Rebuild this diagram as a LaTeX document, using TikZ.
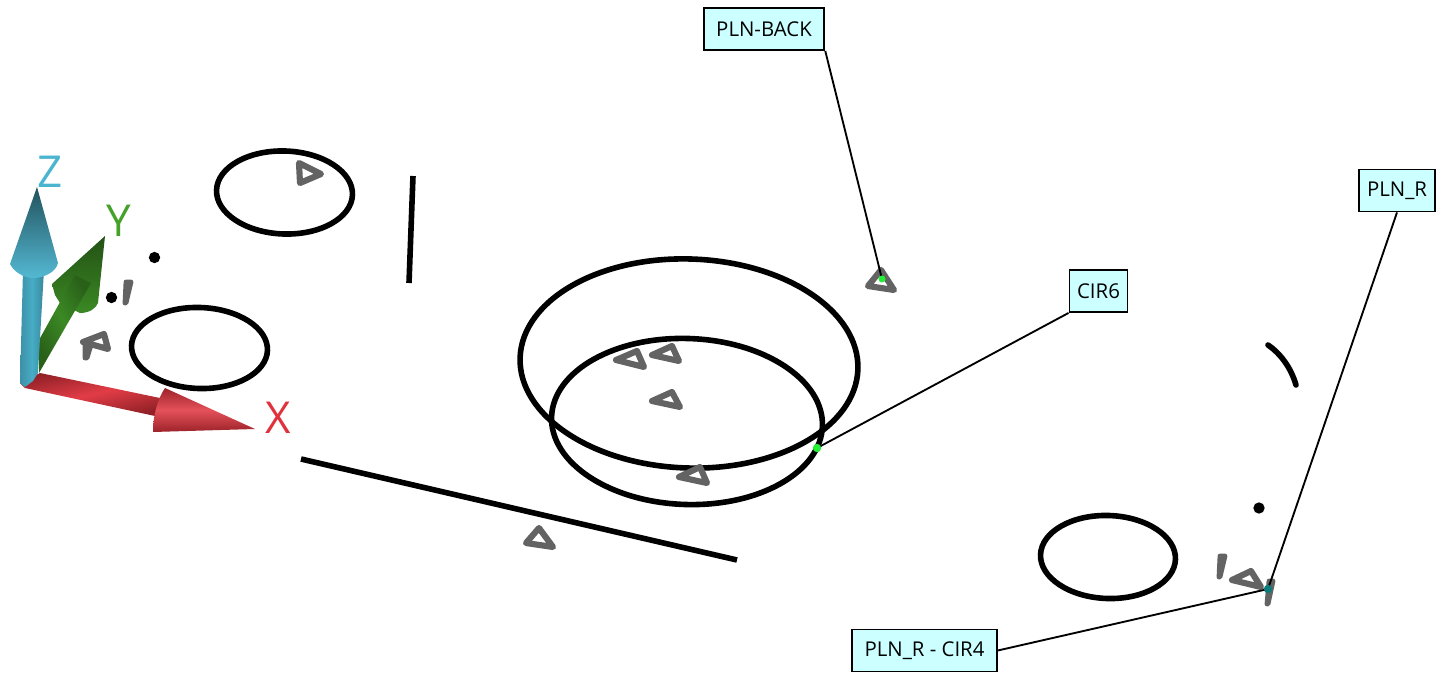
\documentclass[tikz,border=0pt]{standalone}
\usepackage{fontspec}
\setmainfont{Open Sans}
\usetikzlibrary{calc}
\definecolor{lab}{HTML}{CCFFFF}
\definecolor{mk}{HTML}{636363}
\definecolor{zc}{HTML}{4BB5D0}
\definecolor{yc}{HTML}{45A12A}
\definecolor{xc}{HTML}{E0323C}
\definecolor{hit}{HTML}{22EE33}
\definecolor{hitb}{HTML}{0B7B7B}
\tikzset{
 px/.style={x=0.75pt,y=-0.75pt},
 tag/.style={draw=black,line width=1.4pt,fill=lab,inner sep=0pt,minimum height=31.5pt,font=\fontsize{15.3pt}{17pt}\selectfont,text=black},
 lead/.style={draw=black,line width=1.4pt},
 curve/.style={draw=black,line width=4.2pt},
 tri/.style={draw=mk,line width=4.6pt,line join=round},
 stub/.style={draw=mk,fill=mk,line width=3.6pt,line join=round},
 dotm/.style={circle,fill=black,inner sep=0pt,minimum size=8.5pt},
 axl/.style={font=\fontsize{33pt}{35pt}\selectfont,inner sep=0pt},
}
\begin{document}
\begin{tikzpicture}[px]
\useasboundingbox (0,0) rectangle (1447,675);
% curves
\draw[curve,rotate around={-2:(284.5,192.5)}] (284.5,192.5) ellipse [x radius=68,y radius=41.5];
\draw[curve,rotate around={-2:(199.5,348)}] (199.5,348) ellipse [x radius=68,y radius=40.5];
\draw[curve,rotate around={-2:(689,363.5)}] (689,363.5) ellipse [x radius=169,y radius=104.5];
\draw[curve,rotate around={-2:(687,421.5)}] (687,421.5) ellipse [x radius=135.5,y radius=83];
\draw[curve,rotate around={-2:(1108,557)}] (1108,557) ellipse [x radius=67.5,y radius=41.5];
\draw[curve] (413,176) -- (409,283);
\draw[curve] (301,459) -- (737,560);
\draw[curve,line cap=round] (1268,345) .. controls (1281,354) and (1291,368) .. (1296,385);
% triangles
\draw[tri] (299,163) -- (321,174) -- (300,183) -- cycle;
\draw[tri] (868,286) -- (881,270) -- (894,290) -- cycle;
\draw[tri] (616,360) -- (637,351) -- (644,367) -- cycle;
\draw[tri] (652,355) -- (672,346) -- (679,361) -- cycle;
\draw[tri] (652,401) -- (672,392) -- (680,407) -- cycle;
\draw[tri] (679,477) -- (700,467) -- (707,483) -- cycle;
\draw[tri] (526,543) -- (539,528) -- (553,547) -- cycle;
\draw[tri] (1232,580) -- (1251,571) -- (1261,587) -- cycle;
\draw[tri] (83,342) -- (104,334) -- (108,349) -- cycle;
\draw[stub] (85,345) -- (91,345) -- (87,358) -- (85,358) -- cycle;
\draw[stub] (126,282) -- (131,282) -- (126,303) -- (125,303) -- cycle;
\draw[stub] (1220,556) -- (1225,556) -- (1220,577) -- (1219,577) -- cycle;
\draw[stub] (1269,581) -- (1273,581) -- (1268,604) -- (1267,604) -- cycle;
% dots
\node[dotm] (d1) at (154.5,257.5) {};
\node[dotm] (d2) at (111.5,297.5) {};
\node[dotm] (d3) at (1259,508) {};
% axes: Y
\shade[top color=yc!50!black,bottom color=yc!85!black]
  (105,236) -- (52,284) -- (55,295) -- (60,303) -- (80,313) .. controls (90,313) and (96,308) .. (98,303) -- cycle;
\shade[left color=yc!60!black,right color=yc!60!black,middle color=yc!85!black,shading angle=120]
  (39,340) -- (75,275) -- (91,283) -- (39,373) -- cycle;
% axes: X
\shade[top color=xc!65!black,bottom color=xc!65!black,middle color=xc!95!white,shading angle=13]
  (20,383) -- (40,373) -- (160,398) -- (155,416) -- (25,388) -- cycle;
\shade[top color=xc!70!black,bottom color=xc!70!black,middle color=xc!85!white]
  (165,388) .. controls (158,398) and (153,415) .. (153,432) -- (255,429) -- cycle;
% axes: Z
\shade[left color=zc!80!black,right color=zc!75!black,middle color=zc!95!black]
  (23,270) -- (44,270) -- (38,373) -- (33,381) -- (25,387) -- (20,383) -- cycle;
\shade[top color=zc!45!black,bottom color=zc!95!white]
  (37,187) -- (10,264) .. controls (14,272) and (24,278) .. (33,278) .. controls (44,278) and (56,272) .. (58,263) -- cycle;
% axis labels
\node[axl,text=zc] (zl) at (50,172) {Z};
\node[axl,text=yc] (yl) at (119,221) {Y};
\node[axl,text=xc] (xl) at (278,418) {X};
% labels
\node[tag,minimum width=90.5pt] (back) at (764,29) {PLN-BACK};
\node[tag,minimum width=43.5pt] (cir) at (1098.5,291) {CIR6};
\node[tag,minimum width=57.5pt] (plnr) at (1397,190.5) {PLN\_R};
\node[tag,minimum width=108.5pt] (cir4) at (924.5,650.5) {PLN\_R - CIR4};
% anchors
\coordinate (pb) at (882,279);
\coordinate (pc) at (817,448);
\coordinate (pr) at (1268,589);
\draw[lead] (back.south east) -- (pb);
\draw[lead] (cir.south west) -- (pc);
\draw[lead] (plnr.south) -- (pr);
\draw[lead] (cir4.east) -- (pr);
\fill[hit] (pb) circle (3.5);
\fill[hit] (pc) circle (4.2);
\fill[hitb] (pr) circle (4.2);
\end{tikzpicture}
\end{document}
